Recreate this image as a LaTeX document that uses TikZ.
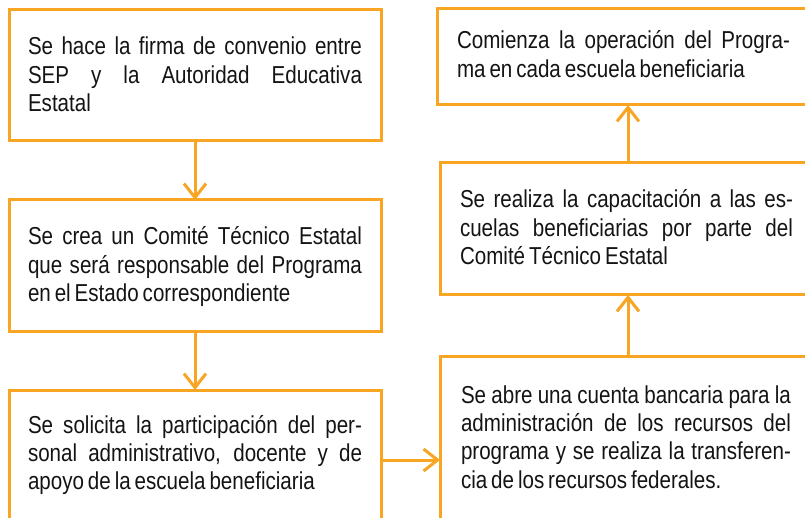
\documentclass[tikz,border=0pt]{standalone}
\usepackage{fontspec}
\setmainfont{Liberation Sans}[FakeStretch=0.84]
\usetikzlibrary{arrows.meta}
\definecolor{boxorange}{RGB}{248,165,36}
\definecolor{txtgray}{RGB}{20,20,20}
\newcommand{\jline}[1]{\hbox to \hsize{\spaceskip=0.25em plus 1fil minus 0.1em #1}\par}
\newcommand{\tline}[1]{{\spaceskip=0.16em #1}}
\begin{document}
\begin{tikzpicture}[x=1pt,y=-1pt,
  box/.style={draw=boxorange,line width=3pt,rectangle,inner sep=0pt,outer sep=0pt},
  txt/.style={anchor=base west,inner sep=0pt,outer sep=0pt,text width=#1,text=txtgray,
    font=\fontsize{24.5}{28.4}\selectfont},
  txt/.default=334pt,
  flow/.style={draw=boxorange,line width=3pt,-{Straight Barb[length=14pt,width=22pt,line width=3pt]}}]
\useasboundingbox (0,0) rectangle (805,518);
\clip (0,0) rectangle (805,518);
% boxes
\node[box,minimum width=372pt,minimum height=131pt] (b1) at (195,75.5) {};
\node[box,minimum width=372pt,minimum height=131pt] (b2) at (195,265.5) {};
\node[box,minimum width=372pt,minimum height=140pt] (b3) at (195,460) {};
\node[box,minimum width=380pt,minimum height=96pt] (r1) at (627,57) {};
\node[box,minimum width=376pt,minimum height=132pt] (r2) at (628,229) {};
\node[box,minimum width=376pt,minimum height=208pt] (r3) at (628,460) {};
% texts
\node[txt] (t1) at (28,55) {\jline{Se hace la firma de convenio entre}\jline{SEP y la Autoridad Educativa}Estatal};
\node[txt] (t2) at (28,245) {\jline{Se crea un Comité Técnico Estatal}\jline{que será responsable del Programa}\tline{en el Estado correspondiente}};
\node[txt] (t3) at (28,433) {\jline{Se solicita la participación del per-}\jline{sonal administrativo, docente y de}\tline{apoyo de la escuela beneficiaria}};
\node[txt=333pt] (t4) at (457,49) {\jline{Comienza la operación del Progra-}\tline{ma en cada escuela beneficiaria}};
\node[txt=333pt] (t5) at (460,208) {\jline{Se realiza la capacitación a las es-}\jline{cuelas beneficiarias por parte del}\tline{Comité Técnico Estatal}};
\node[txt=330pt] (t6) at (461,403) {\jline{Se abre una cuenta bancaria para la}\jline{administración de los recursos del}\jline{programa y se realiza la transferen-}\tline{cia de los recursos federales.}};
% connectors
\draw[flow] (b1.south) -- (b2.north);
\draw[flow] (b2.south) -- (b3.north);
\draw[flow] (b3.east) -- (r3.west);
\draw[flow] (r3.north) -- (r2.south);
\draw[flow] (r2.north) -- (r2.north |- r1.south);
\end{tikzpicture}
\end{document}
